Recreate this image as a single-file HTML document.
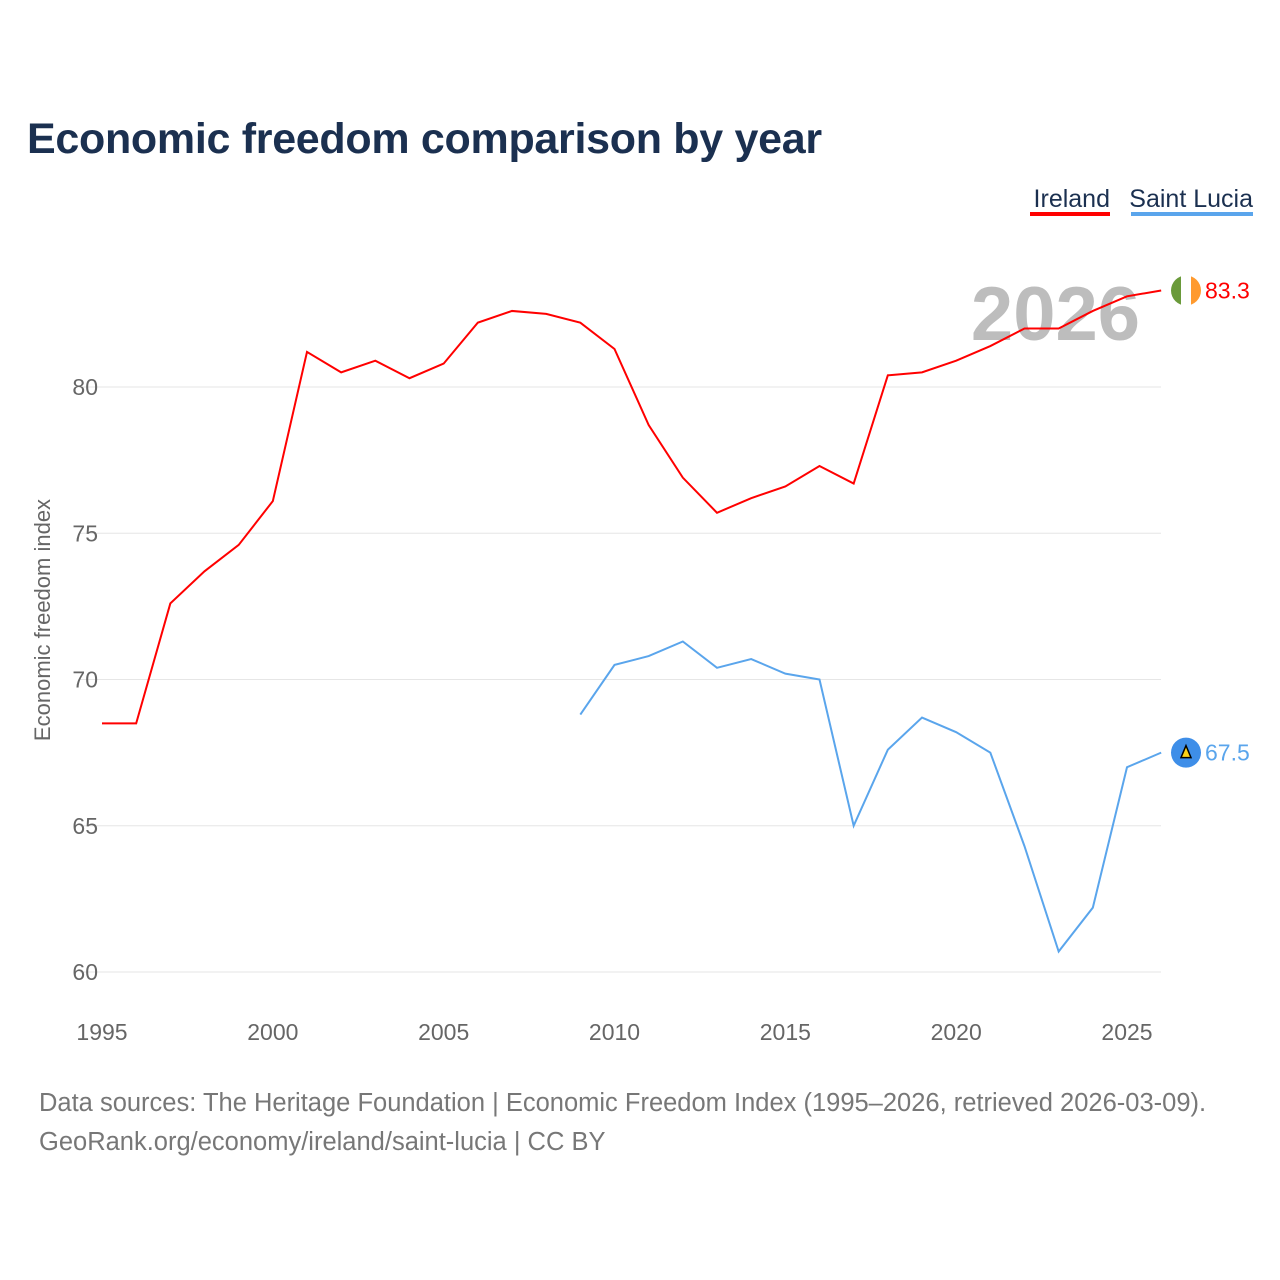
<!DOCTYPE html>
<html><head><meta charset="utf-8"><style>
body{margin:0;background:#fff;font-family:"Liberation Sans",sans-serif;}
#wrap{position:relative;width:1280px;height:1280px;overflow:hidden;}
</style></head><body>
<div id="wrap">
<svg id="chart" width="1280" height="1280"></svg>
</div>
<script>
const years=[1995,1996,1997,1998,1999,2000,2001,2002,2003,2004,2005,2006,2007,2008,2009,2010,2011,2012,2013,2014,2015,2016,2017,2018,2019,2020,2021,2022,2023,2024,2025,2026];
const irelandValues=[68.5,68.5,72.6,73.7,74.6,76.1,81.2,80.5,80.9,80.3,80.8,82.2,82.6,82.5,82.2,81.3,78.7,76.9,75.7,76.2,76.6,77.3,76.7,80.4,80.5,80.9,81.4,82.0,82.0,82.6,83.1,83.3];
const luciaYears=[2009,2010,2011,2012,2013,2014,2015,2016,2017,2018,2019,2020,2021,2022,2023,2024,2025,2026];
const luciaValues=[68.8,70.5,70.8,71.3,70.4,70.7,70.2,70.0,65.0,67.6,68.7,68.2,67.5,64.3,60.7,62.2,67.0,67.5];
const yTicks=[60,65,70,75,80];
const xTicks=[1995,2000,2005,2010,2015,2020,2025];

const NS='http://www.w3.org/2000/svg';
const svg=document.getElementById('chart');
const x=v=>102+(v-1995)*(1127-102)/30;
const y=v=>972-(v-60)*(972-387)/20;
function mk(tag,attrs,text){const e=document.createElementNS(NS,tag);for(const k in attrs)e.setAttribute(k,attrs[k]);if(text!==undefined)e.textContent=text;svg.appendChild(e);return e;}

let t=mk('text',{x:27,y:153,'font-size':43,'font-weight':'bold',fill:'#1b3050','letter-spacing':'-0.3'},'Economic freedom comparison by year');



t=mk('text',{x:1110,y:207,'font-size':25,fill:'#1b3050','text-anchor':'end'},'Ireland');


let r=mk('rect',{x:1030,y:212,width:80,height:4,fill:'#ff0000'});


t=mk('text',{x:1253,y:207,'font-size':25,fill:'#1b3050','text-anchor':'end'},'Saint Lucia');


r=mk('rect',{x:1131,y:212,width:122,height:4,fill:'#5aa5ec'});



yTicks.forEach(v=>{
  let l=mk('line',{x1:80,x2:1161,y1:y(v),y2:y(v),stroke:'#e6e6e6','stroke-width':1});
  
  
  let tx=mk('text',{x:98,y:y(v)+8,'font-size':23,fill:'#666','text-anchor':'end'},v);
  
  
});
xTicks.forEach(v=>{
  let tx=mk('text',{x:x(v),y:1040,'font-size':23,fill:'#666','text-anchor':'middle'},v);
  
  
});
t=mk('text',{x:0,y:0,'font-size':22,fill:'#666','text-anchor':'middle',transform:'translate(50,620) rotate(-90)'},'Economic freedom index');



t=mk('text',{x:1140,y:340,'font-size':76,'font-weight':'bold',fill:'#bdbdbd','text-anchor':'end'},'2026');



let p=mk('polyline',{points:years.map((yr,i)=>x(yr)+','+y(irelandValues[i])).join(' '),fill:'none',stroke:'#ff0000','stroke-width':2});


p=mk('polyline',{points:luciaYears.map((yr,i)=>x(yr)+','+y(luciaValues[i])).join(' '),fill:'none',stroke:'#5aa5ec','stroke-width':2});



const iy=y(irelandValues[irelandValues.length-1]);
let g=mk('g',{});


const cp=mk('clipPath',{id:'cf'});cp.appendChild(document.createElementNS(NS,'circle'));
cp.firstChild.setAttribute('cx',1186);cp.firstChild.setAttribute('cy',iy);cp.firstChild.setAttribute('r',15);
[['#6a9a3a',1171],['#ffffff',1181],['#ff9a2e',1191]].forEach(([c,xx])=>{const e=mk('rect',{x:xx,y:iy-15,width:10,height:30,fill:c,'clip-path':'url(#cf)'});g.appendChild(e);});
t=mk('text',{x:1205,y:iy+8,'font-size':23,fill:'#ff0000'},irelandValues[irelandValues.length-1].toFixed(1));



const ly=y(luciaValues[luciaValues.length-1]);
let c=mk('circle',{cx:1186,cy:ly,r:15,fill:'#3e8ee8'});


mk('polygon',{points:`1186,${ly-7} 1191,${ly+5} 1181,${ly+5}`,fill:'#fcd116',stroke:'#000','stroke-width':1.5});
t=mk('text',{x:1205,y:ly+8,'font-size':23,fill:'#5aa5ec'},luciaValues[luciaValues.length-1].toFixed(1));



t=mk('text',{x:39,y:1111,'font-size':25.5,fill:'#777'},'Data sources: The Heritage Foundation | Economic Freedom Index (1995–2026, retrieved 2026-03-09).');


t=mk('text',{x:39,y:1150,'font-size':25.5,fill:'#777'},'GeoRank.org/economy/ireland/saint-lucia | CC BY');


</script>
</body></html>
